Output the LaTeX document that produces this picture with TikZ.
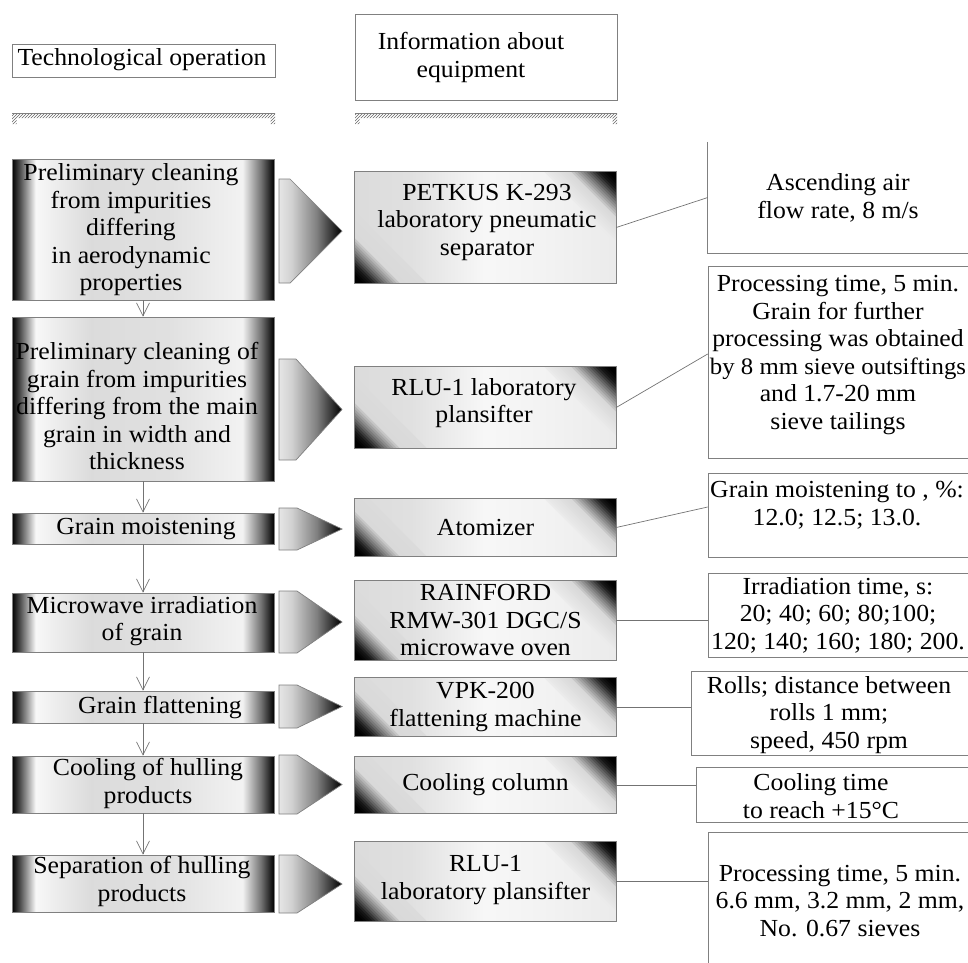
\documentclass[tikz,border=0pt]{standalone}
\usepackage{fontspec}
\setmainfont{Liberation Serif}[FakeStretch=1.05]
\usetikzlibrary{arrows.meta,patterns,calc}

\pgfdeclarehorizontalshading{opshade}{100bp}{color(0bp)=(black); color(25bp)=(black); color(26.5bp)=(black!70); color(29.5bp)=(black!3); color(40bp)=(black!14); color(55bp)=(black!12); color(69bp)=(black!5); color(72.5bp)=(black!55); color(75bp)=(black); color(100bp)=(black)}
\pgfdeclarehorizontalshading{eqbase}{100bp}{color(0bp)=(black!14); color(25bp)=(black!14); color(36bp)=(black!12); color(50bp)=(black!3); color(62bp)=(black!5); color(75bp)=(black!8); color(100bp)=(black!8)}
\pgfdeclarehorizontalshading{arrshade}{100bp}{color(0bp)=(black!10); color(25bp)=(black!10); color(35bp)=(black!18); color(55bp)=(black!50); color(70bp)=(black!88); color(75bp)=(black); color(100bp)=(black)}

\tikzset{
  edge/.style={draw=black!50, line width=0.7pt},
  opbox/.style={edge, shading=opshade, inner sep=0pt, minimum width=262pt},
  eqbox/.style={shading=eqbase, inner sep=0pt, minimum width=261pt},
  rbox/.style={edge, fill=white, inner sep=0pt},
  plain/.style={inner sep=0pt},
  arrbox/.style={edge, shading=arrshade},
  txt/.style={align=center, inner sep=0pt, font=\fontsize{24.5}{27.5}\selectfont},
  conn/.style={draw=black!55, line width=0.7pt},
  flow/.style={conn, -{Straight Barb[length=13pt,width=13pt,line width=0.7pt]}},
  hatchbar/.style={pattern=north east lines, pattern color=black!60}
}
\newcommand\pent[3]{\path[arrbox] (279,#1) -- (#3,#1) -- (342,{(#1+#2)/2}) -- (#3,#2) -- (279,#2) -- cycle;}
\newcommand\cornerpct[2]{\pgfmathsetmacro\Ls{#1*5/6}\pgfmathsetmacro\pct{(\Ls>=40)*(#2+(60-\Ls)/20*(15-#2)) + (\Ls<40)*(\Ls>=28)*(15+(40-\Ls)/12*35) + (\Ls<28)*(\Ls>=16)*(50+(28-\Ls)/12*40) + (\Ls<16)*(\Ls>=8)*(90+(16-\Ls)/8*10) + (\Ls<8)*100}}
\newcommand\eqcorners[1]{%
  \begin{scope}
    \clip (#1.south west) rectangle (#1.north east);
    \foreach \L in {72,69,...,3}{%
      \cornerpct{\L}{8}%
      \fill[black!\pct] (#1.north east) -- ++(-\L,0) -- ++(\L,\L) -- cycle;
      \cornerpct{\L}{14}%
      \fill[black!\pct] (#1.south west) -- ++(\L,0) -- ++(-\L,-\L) -- cycle;
    }
  \end{scope}
  \draw[edge] (#1.south west) rectangle (#1.north east);
}

\begin{document}
\begin{tikzpicture}[x=1pt,y=-1pt]
\useasboundingbox (0,0) rectangle (968,962);
\clip (0,0) rectangle (968,962);

% headers
\node[rbox, minimum width=263pt, minimum height=33pt] (h1) at (143.5,60.5) {};
\node[txt] (h1t) at (142,60) {Technological operation};
\node[rbox, minimum width=262pt, minimum height=86pt] (h2) at (486,57) {};
\node[txt] (h2t) at (471,57.5) {Information about\\equipment};

% hatched bars
\path[hatchbar] (12,113) -- (275,113) -- (275,124) -- (270.5,124) -- (270.5,118) -- (16.5,118) -- (16.5,124) -- (12,124) -- cycle;
\draw[edge] (12,113) -- (275,113);
\path[hatchbar] (355,113) -- (617,113) -- (617,124) -- (612.5,124) -- (612.5,118) -- (359.5,118) -- (359.5,124) -- (355,124) -- cycle;
\draw[edge] (355,113) -- (617,113);

% operation boxes
\node[opbox, minimum height=141pt] (o1) at (143,229.5) {};
\node[opbox, minimum height=164pt] (o2) at (143,399) {};
\node[opbox, minimum height=31pt] (o3) at (143,528.5) {};
\node[opbox, minimum height=59pt] (o4) at (143,622.5) {};
\node[opbox, minimum height=32pt] (o5) at (143,707) {};
\node[opbox, minimum height=57pt] (o6) at (143,784.5) {};
\node[opbox, minimum height=57pt] (o7) at (143,883.5) {};

\node[txt] (o1t) at (131,230) {Preliminary cleaning\\from impurities\\differing\\in aerodynamic\\properties};
\node[txt] (o2t) at (137,406) {Preliminary cleaning of\\grain from impurities\\differing from the main\\grain in width and\\thickness};
\node[txt] (o3t) at (146,529) {Grain moistening};
\node[txt] (o4t) at (142,621) {Microwave irradiation\\of grain};
\node[txt] (o5t) at (160,708) {Grain flattening};
\node[txt] (o6t) at (148,783.5) {Cooling of hulling\\products};
\node[txt] (o7t) at (142,881.5) {Separation of hulling\\products};

% flow arrows
\draw[flow] (o1) -- (o2);
\draw[flow] (o2) -- (o3);
\draw[flow] (o3) -- (o4);
\draw[flow] (o4) -- (o5);
\draw[flow] (o5) -- (o6);
\draw[flow] (o6) -- (o7);

% pentagon arrows
\pent{179}{283}{290}
\pent{359}{460}{296}
\pent{508}{550}{297}
\pent{591}{653}{297}
\pent{685}{728}{297}
\pent{755}{814}{297}
\pent{855}{913}{297}

% equipment boxes
\node[eqbox, minimum height=111pt] (m1) at (485.5,227.5) {};
\node[eqbox, minimum height=81pt] (m2) at (485.5,407.5) {};
\node[eqbox, minimum height=58pt] (m3) at (485.5,527.5) {};
\node[eqbox, minimum height=80pt] (m4) at (485.5,620.5) {};
\node[eqbox, minimum height=58pt] (m5) at (485.5,707) {};
\node[eqbox, minimum height=56pt] (m6) at (485.5,785) {};
\node[eqbox, minimum height=79pt] (m7) at (485.5,881.5) {};
\eqcorners{m1}\eqcorners{m2}\eqcorners{m3}\eqcorners{m4}\eqcorners{m5}\eqcorners{m6}\eqcorners{m7}

\node[txt] (m1t) at (487,222) {PETKUS K-293\\laboratory pneumatic\\separator};
\node[txt] (m2t) at (484,403) {RLU-1 laboratory\\plansifter};
\node[txt] (m3t) at (485.5,527) {Atomizer};
\node[txt] (m4t) at (485.5,620) {RAINFORD\\RMW-301 DGC/S\\microwave oven};
\node[txt] (m5t) at (485.5,707) {VPK-200\\flattening machine};
\node[txt] (m6t) at (485.5,785) {Cooling column};
\node[txt] (m7t) at (485.5,880) {RLU-1\\laboratory plansifter};

% parameter boxes
\node[plain, minimum width=272pt, minimum height=111pt] (r1) at (844,197.5) {};
\draw[edge] (r1.north west) -- (r1.south west) -- (r1.south east);
\node[rbox, minimum width=272pt, minimum height=192pt] (r2) at (844,362) {};
\node[rbox, minimum width=272pt, minimum height=84pt] (r3) at (844,515) {};
\node[rbox, minimum width=272pt, minimum height=84pt] (r4) at (844,615) {};
\node[rbox, minimum width=289pt, minimum height=84pt] (r5) at (835.5,713) {};
\node[rbox, minimum width=284pt, minimum height=55pt] (r6) at (838,794.5) {};
\node[rbox, minimum width=272pt, minimum height=158pt] (r7) at (844,911) {};

\node[txt] (r1t) at (838,198) {Ascending air\\flow rate, 8 m/s};
\node[txt] (r2t) at (838,355) {Processing time, 5 min.\\Grain for further\\processing was obtained\\{\fontsize{23.6}{27.5}\selectfont by 8 mm sieve outsiftings}\\and 1.7-20 mm\\sieve tailings};
\node[txt] (r3t) at (837,505) {Grain moistening to , \%:\\12.0; 12.5; 13.0.};
\node[txt] (r4t) at (838,615) {Irradiation time, s:\\20; 40; 60; 80;100;\\120; 140; 160; 180; 200.};
\node[txt] (r5t) at (829,715) {Rolls; distance between\\rolls 1 mm;\\speed, 450 rpm};
\node[txt] (r6t) at (821,796) {Cooling time\\to reach +15°C};
\node[txt] (r7t) at (840,901) {Processing time, 5 min.\\6.6 mm, 3.2 mm, 2 mm,\\No. 0.67 sieves};

% connectors
\draw[conn] (m1.east) -- (r1.west);
\draw[conn] (m2.east) -- ([yshift=8pt]r2.west);
\draw[conn] (m3.east) -- ([yshift=8pt]r3.west);
\draw[conn] (m4.east) -- (m4.east -| r4.west);
\draw[conn] (m5.east) -- (m5.east -| r5.west);
\draw[conn] (m6.east) -- (m6.east -| r6.west);
\draw[conn] (m7.east) -- (m7.east -| r7.west);
\end{tikzpicture}
\end{document}
